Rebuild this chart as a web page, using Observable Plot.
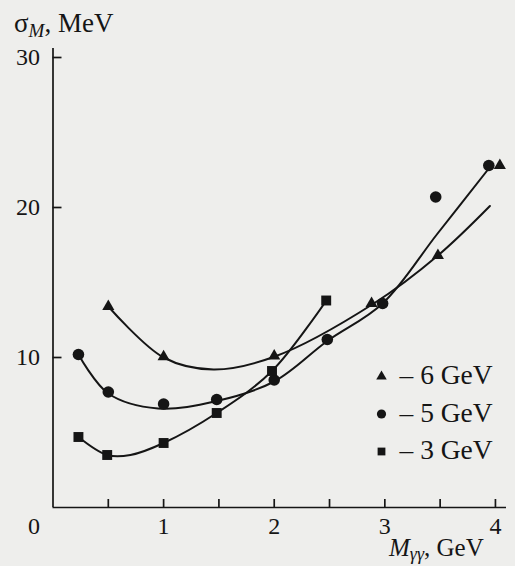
<!DOCTYPE html>
<html><head><meta charset="utf-8">
<script src="https://cdn.jsdelivr.net/npm/d3@7"></script>
<script src="https://cdn.jsdelivr.net/npm/@observablehq/plot@0.6"></script>
<style>
html,body{margin:0;padding:0;background:#eeeeec;}
#chart svg{display:block;}
</style></head><body><div id="chart"></div>
<script>
// Measured points (x: M_γγ in GeV, y: σ_M in MeV)
const triX = [0.5, 1.0, 2.0, 2.88, 3.48, 4.04];
const triY = [13.4, 10.05, 10.1, 13.6, 16.8, 22.8];
const cirX = [0.23, 0.5, 1.0, 1.48, 2.0, 2.48, 2.98, 3.46, 3.94];
const cirY = [10.2, 7.7, 6.9, 7.2, 8.5, 11.2, 13.6, 20.7, 22.8];
const sqX = [0.23, 0.49, 1.0, 1.48, 1.98, 2.47];
const sqY = [4.7, 3.5, 4.3, 6.3, 9.1, 13.8];
// Smooth curves as drawn in the figure
const triCurveX = [0.5, 1.0, 1.45, 2.0, 2.9, 3.48, 3.95];
const triCurveY = [13.4, 10.0, 9.2, 10.05, 13.6, 16.8, 20.1];
const cirCurveX = [0.23, 0.5, 0.95, 1.48, 2.0, 2.48, 2.98, 3.47, 3.94];
const cirCurveY = [10.2, 7.6, 6.6, 7.1, 8.4, 11.1, 13.6, 18.2, 22.6];
const sqCurveX = [0.23, 0.49, 0.7, 1.0, 1.48, 1.98, 2.47];
const sqCurveY = [4.7, 3.5, 3.5, 4.3, 6.3, 9.1, 13.8];
// Legend and ticks
const seriesLabels = ["– 6 GeV", "– 5 GeV", "– 3 GeV"];
const seriesSymbols = ["triangle", "circle", "square"];
const xLabelTicks = [1, 2, 3, 4];
const xTickMarks = [0.5, 1, 1.5, 2, 2.5, 3, 3.5, 4];
const yTicks = [10, 20, 30];

const ink = "#151515";
const pts = (xs, ys) => xs.map((x, i) => ({x, y: ys[i]}));
const mLeft = 52.5, mTop = 48;
const fmt = d => String(d);

const legendRows = seriesLabels.map((label, i) => ({label, symbol: seriesSymbols[i], i}));
const legendR = {triangle: 3.9, circle: 4.6, square: 4.4};

const plot = Plot.plot({
  width: 515, height: 566,
  marginLeft: mLeft, marginRight: 9, marginTop: mTop, marginBottom: 59,
  x: {domain: [0, 4.1]},
  y: {domain: [0, 30.6]},
  style: {fontFamily: "'Liberation Serif', 'Times New Roman', serif", fontSize: "24px", background: "transparent", color: ink},
  marks: [
    Plot.ruleY([0], {stroke: ink, strokeWidth: 1.7}),
    Plot.ruleX([0], {stroke: ink, strokeWidth: 1.7}),
    Plot.axisX({ticks: xTickMarks, tickSize: 8, dy: -8, text: null, label: null, strokeWidth: 1.7, stroke: ink}),
    Plot.axisY({ticks: yTicks, tickSize: 9, dx: 9, text: null, label: null, strokeWidth: 1.7, stroke: ink}),
    Plot.axisX({ticks: xLabelTicks, tickSize: 0, tickPadding: 9, tickFormat: fmt, fontSize: 24, label: null, fill: ink}),
    Plot.axisX({ticks: [0], tickSize: 0, tickPadding: 9, tickFormat: fmt, dx: -19, fontSize: 24, label: null, fill: ink}),
    Plot.axisY({ticks: yTicks, tickSize: 0, tickPadding: 13, tickFormat: fmt, fontSize: 24, label: null, fill: ink}),
    Plot.line(pts(triCurveX, triCurveY), {x: "x", y: "y", curve: "catmull-rom", stroke: ink, strokeWidth: 2}),
    Plot.line(pts(cirCurveX, cirCurveY), {x: "x", y: "y", curve: "catmull-rom", stroke: ink, strokeWidth: 2}),
    Plot.line(pts(sqCurveX, sqCurveY), {x: "x", y: "y", curve: "catmull-rom", stroke: ink, strokeWidth: 2}),
    Plot.dot(pts(triX, triY), {x: "x", y: "y", symbol: "triangle", r: 4.5, fill: ink, stroke: "none"}),
    Plot.dot(pts(cirX, cirY), {x: "x", y: "y", symbol: "circle", r: 5.8, fill: ink, stroke: "none"}),
    Plot.dot(pts(sqX, sqY), {x: "x", y: "y", symbol: "square", r: 5.6, fill: ink, stroke: "none"}),
    ...legendRows.map(d => Plot.dot([d], {frameAnchor: "top-left", dx: 381 - mLeft, dy: 376 + d.i * 37.5 - mTop, symbol: d.symbol, r: legendR[d.symbol], fill: ink, stroke: "none"})),
    ...legendRows.map(d => Plot.text([d], {frameAnchor: "top-left", dx: 399 - mLeft, dy: 375 + d.i * 37.5 - mTop, text: "label", textAnchor: "start", lineAnchor: "middle", fontSize: 27.5, fill: ink}))
  ]
});

const svg = d3.select(plot);
const font = "'Liberation Serif', 'Times New Roman', serif";
// y-axis label: σ_M, MeV
const yl = svg.append("text").attr("x", 14).attr("y", 32).attr("text-anchor", "start")
  .attr("font-family", font).attr("font-size", 27).attr("fill", ink);
yl.append("tspan").text("σ");
yl.append("tspan").attr("font-style", "italic").attr("font-size", 19).attr("dy", 5).text("M");
yl.append("tspan").attr("dy", -5).text(", MeV");
// x-axis label: M_γγ, GeV
const xl = svg.append("text").attr("x", 389).attr("y", 556).attr("text-anchor", "start")
  .attr("font-family", font).attr("font-size", 25).attr("fill", ink);
xl.append("tspan").attr("font-style", "italic").text("M");
xl.append("tspan").attr("font-style", "italic").attr("font-size", 18).attr("dy", 4).text("γγ");
xl.append("tspan").attr("dy", -4).text(", GeV");

document.getElementById("chart").appendChild(plot);
</script>
</body></html>
